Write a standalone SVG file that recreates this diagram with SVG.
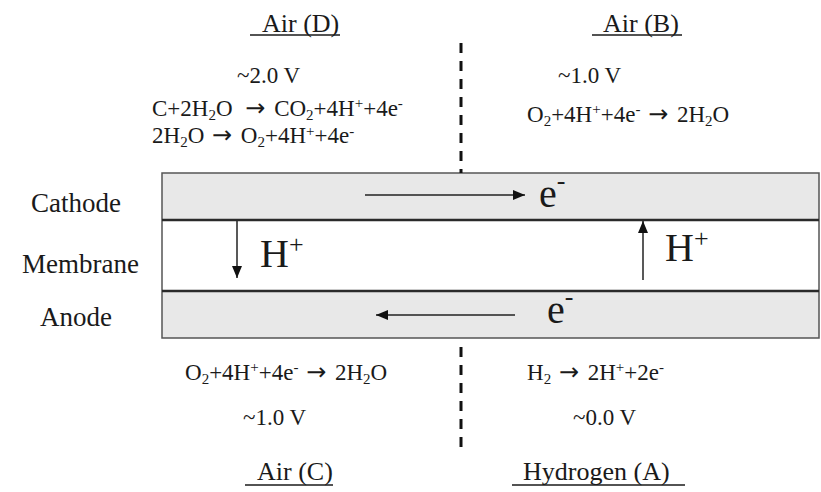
<svg xmlns="http://www.w3.org/2000/svg" width="821" height="492" viewBox="0 0 821 492">
<style>
text{font-family:"Liberation Serif","Times New Roman",serif;fill:#1a1a1a}
.lbl{font-size:26px}
.side{font-size:27px}
.eq{font-size:23px}
.big{font-size:40px}
.sub{font-size:15px}
.sup{font-size:15px}
.bsup{font-size:26px}
.ar{font-family:"DejaVu Sans",sans-serif;font-size:24px}
.ul{stroke:#1a1a1a;stroke-width:1.5}
.band{fill:#e8e8e8}
.div{stroke:#2a2a2a;stroke-width:2.5}
.dash{stroke:#111;stroke-width:3;stroke-dasharray:10 8;fill:none}
.arr{stroke:#222;stroke-width:1.5;fill:none;marker-end:url(#ah)}
</style>
<defs>
<marker id="ah" viewBox="0 0 12 10" refX="12" refY="5" markerWidth="12" markerHeight="10" markerUnits="userSpaceOnUse" orient="auto">
<path d="M0,0 L12,5 L0,10 Z" fill="#111"/>
</marker>
</defs>
<rect width="821" height="492" fill="#fff"/>

<g id="cell">
<rect class="band" x="162" y="173" width="657" height="47"/>
<rect x="162" y="220" width="657" height="71" fill="#fff"/>
<rect class="band" x="162" y="291" width="657" height="47"/>
<rect x="162" y="173" width="657" height="165" fill="none" stroke="#555" stroke-width="1.5"/>
<line class="div" x1="162" y1="220" x2="819" y2="220"/>
<line class="div" x1="162" y1="291" x2="819" y2="291"/>
</g>

<g id="layer-labels">
<text class="side" x="31" y="212">Cathode</text>
<text class="side" x="22" y="273">Membrane</text>
<text class="side" x="40" y="326">Anode</text>
</g>

<g id="connectors">
<line class="dash" x1="461" y1="43" x2="461" y2="173"/>
<line class="dash" x1="461" y1="347" x2="461" y2="448"/>
<line class="arr" x1="365" y1="195" x2="525" y2="195"/>
<line class="arr" x1="515" y1="315" x2="376" y2="315"/>
<line class="arr" x1="237" y1="221" x2="237" y2="278"/>
<line class="arr" x1="643" y1="280" x2="643" y2="221"/>
</g>

<g id="flow-labels">
<text class="big" x="539" y="207">e<tspan class="bsup" dy="-18">-</tspan></text>
<text class="big" x="547" y="323">e<tspan class="bsup" dy="-18">-</tspan></text>
<text class="big" x="260" y="267">H<tspan class="bsup" dy="-14">+</tspan></text>
<text class="big" x="665" y="261">H<tspan class="bsup" dy="-14">+</tspan></text>
</g>

<g id="air-d">
<text class="lbl" x="262" y="32">Air (D)</text>
<line class="ul" x1="250" y1="35" x2="340" y2="35"/>
<text class="eq" x="237" y="83">~2.0 V</text>
<text class="eq" x="152" y="116">C+2H<tspan class="sub" dy="4">2</tspan><tspan dy="-4">O </tspan><tspan class="ar" dx="7">→</tspan><tspan dx="3"> CO</tspan><tspan class="sub" dy="4">2</tspan><tspan dy="-4">+4H</tspan><tspan class="sup" dy="-8">+</tspan><tspan dy="8">+4e</tspan><tspan class="sup" dy="-8">-</tspan></text>
<text class="eq" x="152" y="143">2H<tspan class="sub" dy="4">2</tspan><tspan dy="-4">O </tspan><tspan class="ar" dx="2">→</tspan><tspan dx="3"> O</tspan><tspan class="sub" dy="4">2</tspan><tspan dy="-4">+4H</tspan><tspan class="sup" dy="-7">+</tspan><tspan dy="7">+4e</tspan><tspan class="sup" dy="-7">-</tspan></text>
</g>

<g id="air-b">
<text class="lbl" x="603" y="32">Air (B)</text>
<line class="ul" x1="592" y1="35" x2="682" y2="35"/>
<text class="eq" x="558" y="83">~1.0 V</text>
<text class="eq" x="527" y="122">O<tspan class="sub" dy="4">2</tspan><tspan dy="-4">+4H</tspan><tspan class="sup" dy="-8">+</tspan><tspan dy="8">+4e</tspan><tspan class="sup" dy="-8">-</tspan><tspan dy="8"> </tspan><tspan class="ar" dx="2">→</tspan><tspan dx="3"> 2H</tspan><tspan class="sub" dy="4">2</tspan><tspan dy="-4">O</tspan></text>
</g>

<g id="air-c">
<text class="eq" x="185" y="380">O<tspan class="sub" dy="4">2</tspan><tspan dy="-4">+4H</tspan><tspan class="sup" dy="-8">+</tspan><tspan dy="8">+4e</tspan><tspan class="sup" dy="-8">-</tspan><tspan dy="8"> </tspan><tspan class="ar" dx="2">→</tspan><tspan dx="3"> 2H</tspan><tspan class="sub" dy="4">2</tspan><tspan dy="-4">O</tspan></text>
<text class="eq" x="243" y="425">~1.0 V</text>
<text class="lbl" x="257" y="480">Air (C)</text>
<line class="ul" x1="245" y1="485" x2="333" y2="485"/>
</g>

<g id="hydrogen-a">
<text class="eq" x="527" y="380">H<tspan class="sub" dy="4">2</tspan><tspan dy="-4"> </tspan><tspan class="ar" dx="2">→</tspan><tspan dx="3"> 2H</tspan><tspan class="sup" dy="-8">+</tspan><tspan dy="8">+2e</tspan><tspan class="sup" dy="-8">-</tspan></text>
<text class="eq" x="573" y="425">~0.0 V</text>
<text class="lbl" x="523" y="480">Hydrogen (A)</text>
<line class="ul" x1="512" y1="485" x2="685" y2="485"/>
</g>
</svg>
